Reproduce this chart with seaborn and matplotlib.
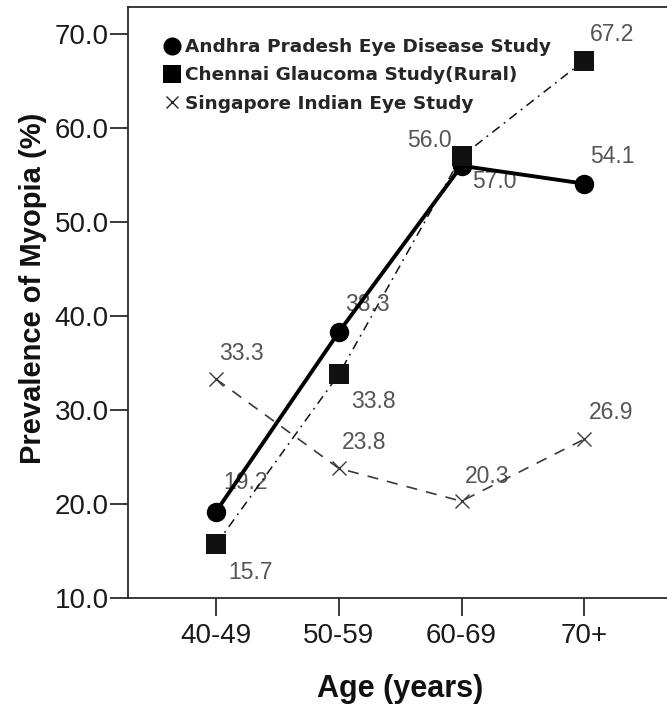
import numpy as np
import pandas as pd
import matplotlib
matplotlib.use("Agg")
import matplotlib.pyplot as plt
import seaborn as sns
from matplotlib.lines import Line2D
from matplotlib.ticker import FormatStrFormatter

# Prevalence of myopia (%) by age group for three population studies
age_groups = ["40-49", "50-59", "60-69", "70+"]
studies = [
    "Andhra Pradesh Eye Disease Study",
    "Chennai Glaucoma Study(Rural)",
    "Singapore Indian Eye Study",
]
andhra = [19.2, 38.3, 56.0, 54.1]
chennai = [15.7, 33.8, 57.0, 67.2]
singapore = [33.3, 23.8, 20.3, 26.9]
y_ticks = [10, 20, 30, 40, 50, 60, 70]

sns.set_theme(style="white")
plt.rcParams["font.family"] = ["Liberation Sans", "DejaVu Sans"]

df = pd.DataFrame({
    "Age": age_groups * 3,
    "Prevalence": andhra + chennai + singapore,
    "Study": np.repeat(studies, len(age_groups)),
})

W, H = 667, 708
fig = plt.figure(figsize=(W / 100, H / 100), dpi=100)
x0, x1, y_top, y_bot = 128.3, 672.0, 7.3, 598.0
ax = fig.add_axes([x0 / W, 1 - y_bot / H, (x1 - x0) / W, (y_bot - y_top) / H])

line_style = {
    studies[0]: dict(color="#000000", marker="o", lw=2.8, ms=14, mew=0, dashes=None),
    studies[1]: dict(color="#111111", marker="s", lw=1.1, ms=14, mew=0, dashes=(6, 3.5, 1.2, 3.5)),
    studies[2]: dict(color="#3a3a3a", marker="x", lw=1.2, ms=9.5, mew=1.0, dashes=(6.6, 5.5)),
}

for study in studies:
    st = line_style[study]
    sub = df[df["Study"] == study]
    sns.lineplot(data=sub, x="Age", y="Prevalence", color=st["color"],
                 marker=st["marker"], linewidth=st["lw"], markersize=st["ms"],
                 markeredgewidth=st["mew"], markeredgecolor=st["color"],
                 markerfacecolor=st["color"], sort=False, ax=ax, zorder=3)
    line = ax.lines[-1]
    if st["dashes"] is not None:
        line.set_dashes(st["dashes"])

# Value labels (pixel offsets from each point)
label_offsets = {
    studies[0]: [(7, 29, "left"), (6, 28, "left"), (-10, 25, "right"), (6, 27, "left")],
    studies[1]: [(12, -28, "left"), (12, -27, "left"), (11, -25, "left"), (6, 26, "left")],
    studies[2]: [(3, 26, "left"), (3, 26, "left"), (3, 25, "left"), (5, 27, "left")],
}
series = {studies[0]: andhra, studies[1]: chennai, studies[2]: singapore}
for study in studies:
    for i, val in enumerate(series[study]):
        dx, dy, ha = label_offsets[study][i]
        ax.annotate(f"{val:.1f}", (i, val), xytext=(dx, dy),
                    textcoords="offset pixels", ha=ha, va="center",
                    fontsize=16.5, color="#555555", zorder=1)

ax.set_xlim(-0.715, 3.715)
ax.set_ylim(10, 72.87)
ax.set_yticks(y_ticks)
ax.yaxis.set_major_formatter(FormatStrFormatter("%.1f"))

for side in ["left", "bottom", "top", "right"]:
    ax.spines[side].set_color("#2a2a2a")
    ax.spines[side].set_linewidth(1.3)

ax.tick_params(axis="both", which="major", direction="out", length=13,
               width=1.3, color="#2a2a2a", labelsize=20, labelcolor="#1a1a1a",
               left=True, bottom=True)
ax.tick_params(axis="y", pad=1)
ax.tick_params(axis="x", pad=5)

ax.set_xlabel("Age (years)", fontsize=22, fontweight="bold", color="#111111")
ax.set_ylabel("Prevalence of Myopia (%)", fontsize=21, fontweight="bold", color="#111111")
ax.xaxis.label.set_va("center")
ax.yaxis.label.set_va("center")
ax.xaxis.set_label_coords(0.5, (y_bot - 689) / (y_bot - y_top))
ax.yaxis.set_label_coords((33 - x0) / (x1 - x0), (y_bot - 288) / (y_bot - y_top))

handles = [
    Line2D([], [], marker="o", linestyle="none", color="black", ms=13, mew=0),
    Line2D([], [], marker="s", linestyle="none", color="black", ms=13.5, mew=0),
    Line2D([], [], marker="x", linestyle="none", color="#222222", ms=9, mew=1.0),
]
ax.legend(handles, studies, loc="upper left",
          bbox_to_anchor=(162.8 / W, 1 - 38 / H), bbox_transform=fig.transFigure,
          frameon=False, borderpad=0, borderaxespad=0, handlelength=1.0,
          handletextpad=0.22, labelspacing=0.56,
          prop={"size": 13.3, "weight": "bold", "family": "DejaVu Sans"})

fig.savefig("out.png", dpi=100)
